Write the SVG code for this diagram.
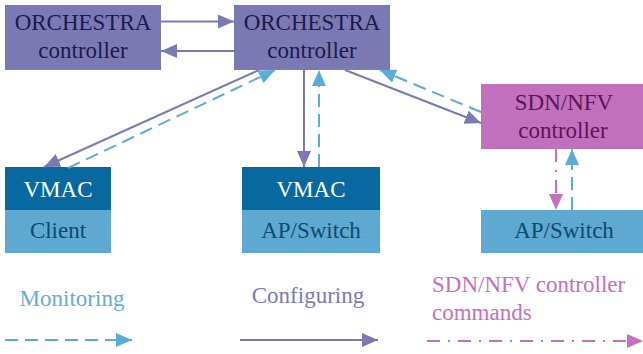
<svg xmlns="http://www.w3.org/2000/svg" width="643" height="354" viewBox="0 0 643 354">
<style>
text{font-family:'Liberation Serif','DejaVu Serif','Times New Roman',serif;font-size:23px;text-anchor:middle}
.orch{fill:#7b79b4}
.orcht{fill:#1c1a4c}
.sdn{fill:#c070bc}
.sdnt{fill:#5e1458}
.vmac{fill:#0868a0}
.vmact{fill:#ffffff}
.dev{fill:#5ea9d2}
.devt{fill:#0e4a6e}
.cfg{stroke:#7b79b4;stroke-width:2;fill:none}
.mon{stroke:#5aabd7;stroke-width:2;fill:none;stroke-dasharray:13 7}
.cmd{stroke:#c56fc0;stroke-width:2;fill:none;stroke-dasharray:13 8 2 8}
</style>
<defs>
<marker id="aP" markerUnits="userSpaceOnUse" markerWidth="16" markerHeight="14" refX="16" refY="7" orient="auto"><path d="M0,0 L16,7 L0,14 z" fill="#7b79b4"/></marker>
<marker id="aB" markerUnits="userSpaceOnUse" markerWidth="16" markerHeight="14" refX="16" refY="7" orient="auto"><path d="M0,0 L16,7 L0,14 z" fill="#5aabd7"/></marker>
<marker id="aM" markerUnits="userSpaceOnUse" markerWidth="16" markerHeight="14" refX="16" refY="7" orient="auto"><path d="M0,0 L16,7 L0,14 z" fill="#c56fc0"/></marker>
</defs>

<g id="orchestra1">
<rect class="orch" x="5" y="5" width="156" height="65"/>
<text class="orcht" x="83" y="30" font-family="Liberation Serif, serif">ORCHESTRA</text>
<text class="orcht" x="83" y="58">controller</text>
</g>
<g id="orchestra2">
<rect class="orch" x="234" y="5" width="156" height="65"/>
<text class="orcht" x="312" y="30">ORCHESTRA</text>
<text class="orcht" x="312" y="58">controller</text>
</g>
<g id="sdnnfv">
<rect class="sdn" x="481" y="84" width="162" height="65"/>
<text class="sdnt" x="564" y="110">SDN/NFV</text>
<text class="sdnt" x="563" y="138">controller</text>
</g>
<g id="vmac-client">
<rect class="vmac" x="5" y="167" width="106" height="43"/>
<rect class="dev" x="5" y="210" width="106" height="43"/>
<text class="vmact" x="58" y="197">VMAC</text>
<text class="devt" x="58" y="238">Client</text>
</g>
<g id="vmac-ap">
<rect class="vmac" x="242" y="167" width="138" height="43"/>
<rect class="dev" x="242" y="210" width="138" height="43"/>
<text class="vmact" x="311" y="197">VMAC</text>
<text class="devt" x="311" y="238">AP/Switch</text>
</g>
<g id="ap-switch">
<rect class="dev" x="481" y="210" width="162" height="43"/>
<text class="devt" x="564" y="238">AP/Switch</text>
</g>

<g id="connectors">
<line class="cfg" x1="161" y1="21.5" x2="234" y2="21.5" marker-end="url(#aP)"/>
<line class="cfg" x1="234" y1="51" x2="161" y2="51" marker-end="url(#aP)"/>
<line class="cfg" x1="259" y1="70" x2="44" y2="167" marker-end="url(#aP)"/>
<line class="mon" x1="68" y1="168" x2="275" y2="70" marker-end="url(#aB)"/>
<line class="cfg" x1="304" y1="70" x2="304" y2="167" marker-end="url(#aP)"/>
<line class="mon" x1="319" y1="167" x2="319" y2="70" marker-end="url(#aB)"/>
<line class="cfg" x1="345" y1="70" x2="481" y2="123" marker-end="url(#aP)"/>
<line class="mon" x1="481" y1="112" x2="380" y2="70" marker-end="url(#aB)"/>
<line class="cmd" x1="556" y1="149" x2="556" y2="210" marker-end="url(#aM)"/>
<line class="mon" x1="572" y1="210" x2="572" y2="149" marker-end="url(#aB)"/>
</g>

<g id="legend">
<text x="72" y="306" style="fill:#63acd6">Monitoring</text>
<line class="mon" x1="5" y1="340" x2="132" y2="340" marker-end="url(#aB)"/>
<text x="308" y="303" style="fill:#7b79b4">Configuring</text>
<line class="cfg" x1="240" y1="340" x2="378" y2="340" marker-end="url(#aP)"/>
<text x="432" y="292" style="fill:#c56fc0;text-anchor:start">SDN/NFV controller</text>
<text x="432" y="320" style="fill:#c56fc0;text-anchor:start">commands</text>
<line class="cmd" x1="427" y1="341" x2="643" y2="341" marker-end="url(#aM)"/>
</g>
</svg>
